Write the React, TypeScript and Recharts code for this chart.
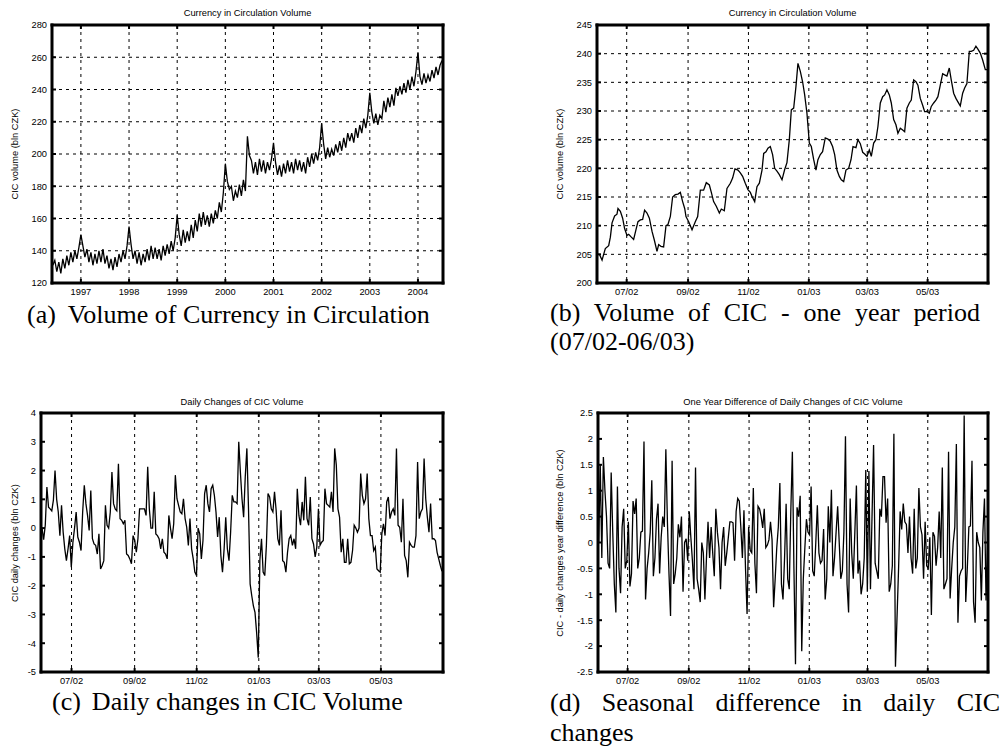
import React from 'react';
import { LineChart, Line, XAxis, YAxis, CartesianGrid } from 'recharts';

// ---------- Panel (a): CIC volume 1996-2004, two readings per month ----------
const yearTicks = [1997, 1998, 1999, 2000, 2001, 2002, 2003, 2004];
const volumeTicks = [120, 140, 160, 180, 200, 220, 240, 260, 280];
const cic1996 = [131, 134, 127, 133, 126, 135, 129, 137, 131, 139, 133, 140, 135, 142, 150];
const cic1997 = [143, 136, 141, 133, 139, 131, 138, 132, 140, 133, 141, 132, 137, 129, 135, 128, 136, 130, 138, 133, 140, 135, 143, 155];
const cic1998 = [144, 135, 140, 132, 139, 131, 138, 133, 141, 134, 143, 135, 142, 135, 141, 134, 143, 137, 144, 138, 146, 140, 148, 162];
const cic1999 = [150, 143, 153, 145, 152, 146, 156, 148, 159, 152, 163, 155, 164, 156, 162, 155, 163, 157, 165, 160, 170, 164, 176, 194];
const cic2000 = [183, 178, 180, 171, 177, 173, 181, 174, 184, 177, 211, 199, 196, 188, 195, 187, 197, 189, 196, 188, 195, 190, 197, 207];
const cic2001 = [195, 187, 193, 186, 194, 188, 196, 189, 195, 188, 197, 190, 196, 189, 195, 188, 198, 192, 200, 194, 201, 196, 204, 219];
const cic2002 = [206, 197, 204, 198, 203, 199, 206, 201, 208, 202, 210, 204, 213, 208, 213, 207, 216, 210, 218, 213, 222, 216, 224, 238];
const cic2003 = [226, 219, 225, 218, 224, 222, 233, 226, 235, 229, 237, 230, 241, 236, 242, 237, 244, 238, 246, 240, 248, 242, 251, 263];
const cic2004 = [248, 243, 250, 244, 249, 245, 252, 247, 254, 249, 255, 258];

// ---------- Shared month axis for panels (b)-(d): days since 1 June 2002 ----------
const monthTickDays = [30, 92, 153, 214, 273, 334];
const monthTickLabels = ['07/02', '09/02', '11/02', '01/03', '03/03', '05/03'];

// ---------- Panel (b): CIC volume 07/02 - 06/03 [day, bln CZK] ----------
const yearWindowTicks = [200, 205, 210, 215, 220, 225, 230, 235, 240, 245];
const cicYearWindow: [number, number][] = [
  [2.4, 205], [5.1, 204], [8.4, 206], [11.8, 206.5], [13.5, 208], [15.2, 210.5], [17.8, 211.7], [20.2, 212], [21.2, 213], [23.6, 212.5],
  [25.9, 211.3], [27.9, 209.5], [30.3, 208.3], [32, 208.5], [34.7, 208], [37, 207.6], [39.4, 209.3], [41.4, 210.7], [43.8, 211], [46.1, 211.1],
  [48.1, 212.7], [50.5, 212.2], [52.9, 211.3], [55.6, 209], [57.9, 207.5], [60.6, 205.5], [62.3, 206.7], [64.6, 206.4], [67.3, 206.3], [69.7, 210],
  [71.7, 210.2], [74.1, 211.6], [76.4, 215], [79.1, 215.4], [81.8, 215.5], [84.2, 215.8], [86.5, 214.2], [88.6, 213], [89.9, 211.6], [92.6, 210.7],
  [96, 209.3], [99.3, 210.7], [101.7, 211.6], [104.4, 216.2], [107.7, 216.2], [110.4, 217.5], [113.5, 217.1], [115.5, 215.8], [117.8, 214.2], [120.5, 213.4],
  [123.6, 212.2], [125.6, 212.9], [128.6, 212.6], [131.3, 216.5], [134.7, 217.4], [137, 218.3], [139.4, 219.9], [142.4, 219.7], [144.8, 219.2], [147.1, 218.6],
  [149.8, 217.4], [152.5, 216.3], [154.9, 215.8], [156.6, 215.1], [159.3, 214.2], [161.6, 216.8], [164, 217.4], [166.7, 219.7], [168.4, 222.6], [170.7, 222.9],
  [172.7, 223.5], [175.1, 223.8], [177.4, 222.4], [179.5, 220], [181.8, 219.5], [184.2, 218.9], [186.9, 218], [189.6, 219.8], [191.9, 221], [194.3, 225],
  [196.3, 230.2], [198.7, 230.5], [201, 234.3], [203, 238.3], [205.4, 236.9], [207.7, 235.1], [209.8, 232.8], [212.1, 229.6], [214.5, 224.4], [216.5, 223.8],
  [218.9, 221.5], [221.2, 219.7], [223.2, 221.5], [225.6, 222.4], [227.9, 222.9], [230.6, 225.3], [233.3, 225.1], [235.7, 224.7], [238, 223.8], [240.1, 222.4],
  [242.4, 219.7], [244.8, 218.6], [246.8, 218], [249.2, 217.7], [251.5, 219.7], [254.2, 220], [256.6, 221.5], [258.6, 223.8], [261.6, 223.6], [263.6, 225],
  [266, 224.3], [268.4, 222.8], [270.4, 222.5], [272.7, 222.1], [275.1, 223.2], [277.1, 222.1], [279.5, 224.4], [281.8, 225], [283.8, 227.3], [286.2, 231.4],
  [288.6, 232.5], [290.6, 232.8], [292.9, 233.7], [295.3, 232.8], [297.3, 231.4], [299.7, 228.5], [302, 227.6], [304, 226.1], [306.4, 227], [308.8, 226.7],
  [310.8, 226.4], [313.1, 230.5], [315.5, 231.4], [317.5, 231.9], [319.9, 235.4], [322.2, 235.1], [324.2, 234.5], [326.6, 232.2], [329, 231], [331, 229.9],
  [333.3, 229.9], [335.7, 229.6], [337.7, 230.8], [340.1, 231.4], [342.4, 231.9], [344.4, 232.5], [346.8, 234.5], [349.2, 236.5], [351.2, 236.3], [353.5, 236.1],
  [355.9, 237.5], [357.9, 235.4], [360.3, 233.1], [362.6, 232.2], [364.6, 231.6], [367, 230.9], [369.4, 233.1], [371.4, 234], [373.7, 234.8], [376.1, 240.4],
  [378.1, 240.4], [380.5, 240.6], [382.8, 241.3], [384.8, 240.8], [387.2, 240.1], [389.6, 238.9], [392.3, 237.2], [394.6, 237.2],
];

// ---------- Panel (c): daily changes (bln CZK), business days ----------
const changeTicks = [-5, -4, -3, -2, -1, 0, 1, 2, 3, 4];
const dailyChanges = [
  0, -0.4, 0.1, 1.43, 0.73, 0.67, 0.6, 0.97, 2.0, 1.0,
  0.56, -0.26, 0.79, -0.14, -0.72, -1.13, -0.72, -0.26, -1.36, -0.49,
  0, 0.56, -0.31, -0.49, -0.78, 0.56, 1.49, 0.85, 0.44, -0.08,
  1.31, -0.37, -0.55, -0.6, -0.9, -0.2, -1.42, -1.3, -1.13, 0.79,
  0.1, 0, 0.56, 1.95, 0.85, 0.67, 0.6, 2.24, 0.33, 0.27,
  0.15, 0.27, -0.9, -0.95, -1.07, -1.24, -0.26, -0.43, -0.84, -0.37,
  0.67, 0.67, 0.67, 0.67, 0.44, 2.13, 0.67, 0, 0, 1.26,
  -0.2, -0.26, -0.37, -0.72, -0.37, -0.84, -0.9, -1.07, 0.44, 0,
  -0.37, 0.15, 1.84, 1.02, 0.79, 0.56, 0.5, 1.02, 0.33, 0.03,
  -0.6, 0.33, -0.72, -1.07, -1.53, -1.65, 0, -0.2, -1.07, -0.43,
  1.2, 1.49, 0.85, 0.56, 1.37, 1.49, 1.14, 0.56, -0.31, 0.38,
  -0.95, -1.53, -0.72, 0.38, -0.72, -1.13, -0.14, 1.14, 0.91, 0.91,
  0.85, 3.0, 1.95, 1.02, 0.38, 1.78, 2.77, 0.67, -1.94, -2.35,
  -2.7, -2.93, -3.63, -4.5, -1.1, -0.37, -1.53, -1.65, -0.6, 1.2,
  1.08, 0.67, 0.56, 1.26, 0.62, -0.37, -0.6, 0.62, -1.13, -1.19,
  -1.53, -0.84, -0.37, -0.26, -0.6, -0.37, -0.72, 1.37, 0.44, 0.1,
  0.91, 0.27, 1.78, 0.33, 0.1, 1.08, -0.37, -0.55, -1.0, -0.66,
  0.67, -0.6, -0.49, -0.43, 1.37, 0.85, 0.79, 0.73, 1.26, 0.56,
  2.77, 2.19, 0.67, 0.38, -0.84, -0.37, -1.19, -1.19, -0.37, -1.24,
  -1.19, -0.78, 0.1, 0, -0.14, 0, 1.9, 1.14, 0.85, 1.02,
  1.9, 0.33, -0.26, -0.26, -0.78, -0.66, -1.42, -1.48, -1.53, -0.2,
  0.15, -0.26, 0.91, 1.08, 0.33, 0.56, 0.67, 0.44, 2.77, 0.1,
  0.03, -0.49, 1.02, -0.95, -1.13, -1.71, -0.49, -0.6, -0.66, -0.66,
  -0.26, 2.3, 0.33, 0.56, 0.67, 2.42, 1.02, 0.38, -0.14, 0.85,
  -0.37, -0.37, -0.43, -0.84, -1.07, -1.3, -1.5,
];

// ---------- Panel (d): one-year difference of daily changes ----------
const diffTicks = [-2.5, -2, -1.5, -1, -0.5, 0, 0.5, 1, 1.5, 2, 2.5];
const seasonalDiff = [
  0.0, 1.5, -0.3, 1.65, 1.0, 0.5, -0.4, -0.5, 1.35,
  0.2, -0.8, -1.35, 1.08, -0.5, -0.98, 0.3, 0.65, -0.5,
  -0.35, 0.4, -0.85, -0.6, 0.8, 0.55, 0.85,
  -0.5, -0.3, 0.2, 0.22, 1.95, -1.1, -0.5, -0.2, 0.2, 1.2,
  -0.65, -0.3, 0.45, 0.75, -0.6, 0.1, 0.5, 0.3, 1.8,
  0.4, -0.6, -1.42, 1.58, -0.8, -0.6, -0.3, 0.35, 0.1, 0.5,
  -0.95, 0.0, 0.07, -0.35, 0.6, 0.1, -0.35, -0.9, 1.45, -0.7,
  -0.9, -1.15, 0.0, -0.2, -1.1, -0.3, 0.4, -0.3, 0.3, -0.2,
  -0.65, 0.65, 0.2, -0.1, -0.9, 0.0, 0.3, -0.45, -0.2, 0.1,
  0.4, 0.4, 0.38, -0.35, 0.6, 0.85, 0.8, 0.3, -0.3, 0.62,
  -0.5, -1.38, 0.3, -0.15, -0.2, 1.05, -0.4, -0.98, 0.7, 0.65,
  0.5, 0.28, 0.65, -0.1, -0.05, 0.05, 0.4, 0.05, -1.25, -0.7,
  -0.1, 0.3, 1.15, -0.8, -1.1, -0.3, 0.75, -0.7, -0.9, 0.6,
  1.75, -0.5, -2.35, 0.68, 0.5, 0.9, -2.1, -0.7, -0.1, 0.45,
  0.2, 0.15, 1.08, -0.55, -0.65, 0.0, 0.72, -0.2, -0.4, -0.35,
  0.26, -1.1, -0.7, 0.7, 0.0, 1.02, -0.65, -0.3, 0.2, 0.7,
  0.0, -0.7, -0.55, 0.2, 2.05, -0.8, -1.35, 0.85, -0.2,
  -0.7, 0.2, 1.1, -0.6, -0.35, -1.0, -0.8, -0.3, 1.4,
  -0.95, 1.38, -0.9, 0.5, 1.88, -0.4, -0.55, -0.7, 0.65, 0.5,
  1.27, 1.27, 0.38, 0.85, -0.95, -0.8, -0.45, 2.1, -2.4,
  -1.45, -0.5, 0.6, 0.25, 0.75, 0.4, 0.35, -0.2, 0.5, -0.3, -0.6, 0.65,
  -0.5, -0.3, 1.05, 0.3, 0.15, -0.7, 0.4, -0.45, -0.5, 0.1, -1.4, 0.2,
  0.12, -0.45, -0.1, 0.6, -0.3, 1.45, -0.9, -0.8, -0.7, 1.75, -1.08, -0.5,
  0.0, 0.3, 1.9, -1.55, -0.65, -0.55, -0.5, 2.45, -1.15, -0.5, 0.3,
  0.32, 1.58, -1.15, -1.55, 0.2, 0.0, -0.1, -1.12, 0.2, 0.85, -1.12, 0.0,
];

// ---------- data tables ----------
type Pt = { x: number; y: number };
const semiMonthly = (year: number, firstSlot: number, values: number[]): Pt[] =>
  values.map((v, i) => ({ x: year + (firstSlot + i + 1) / 24, y: v }));

const volumeData: Pt[] = [
  ...semiMonthly(1996, 9, cic1996),
  ...semiMonthly(1997, 0, cic1997),
  ...semiMonthly(1998, 0, cic1998),
  ...semiMonthly(1999, 0, cic1999),
  ...semiMonthly(2000, 0, cic2000),
  ...semiMonthly(2001, 0, cic2001),
  ...semiMonthly(2002, 0, cic2002),
  ...semiMonthly(2003, 0, cic2003),
  ...semiMonthly(2004, 0, cic2004),
];
const yearWindowData: Pt[] = cicYearWindow.map(([d, v]) => ({ x: d, y: v }));
const businessDays = (values: number[], first: number, last: number): Pt[] =>
  values.map((v, i) => ({ x: first + (i * (last - first)) / (values.length - 1), y: v }));
const changesData = businessDays(dailyChanges, 1, 394);
const diffData = businessDays(seasonalDiff, 0.7, 394.6);

const monthLabel = (v: number) => {
  const i = monthTickDays.indexOf(v);
  return i >= 0 ? monthTickLabels[i] : '';
};

const SANS = '"Liberation Sans", Arial, Helvetica, sans-serif';
const SERIF = '"Liberation Serif", "Times New Roman", Times, serif';
const FS = 9.3;
const blank = () => <g />;

type PanelProps = {
  left: number; top: number; width: number; height: number;
  mTop: number; mRight: number; yWidth: number; xHeight: number;
  data: Pt[];
  xDomain: [number, number]; xTicks: number[]; xFormat?: (v: number) => string;
  yDomain: [number, number]; yTicks: number[];
  hGrid: boolean; title: string; titleY: number; yLabel: string; yLabelX: number;
};

function Panel(p: PanelProps) {
  const plotLeft = p.left + p.yWidth;
  const plotRight = p.left + p.width - p.mRight;
  const plotTop = p.top + p.mTop;
  const plotBottom = p.top + p.height - p.xHeight;
  const frame = { stroke: '#000', strokeWidth: 3, strokeLinecap: 'square' as const };
  const inTick = { stroke: '#000', strokeWidth: 2 };
  const tickStyle = { fontSize: FS, fill: '#000', fontFamily: SANS };
  return (
    <>
      <div style={{ position: 'absolute', left: p.left, top: p.top, width: p.width, height: p.height }}>
        <LineChart width={p.width} height={p.height} data={p.data}
          margin={{ top: p.mTop, right: p.mRight, bottom: 0, left: 0 }}>
          <CartesianGrid stroke="#000" strokeDasharray="3 4" strokeWidth={1} horizontal={p.hGrid} vertical={true} />
          <XAxis type="number" dataKey="x" domain={p.xDomain} ticks={p.xTicks} interval={0} allowDataOverflow
            tickFormatter={p.xFormat} axisLine={false} tickLine={false} tickSize={3} tickMargin={2}
            height={p.xHeight} tick={tickStyle} />
          <YAxis type="number" dataKey="y" domain={p.yDomain} ticks={p.yTicks} interval={0} allowDataOverflow
            axisLine={false} tickLine={false} tickSize={3} tickMargin={2} width={p.yWidth} tick={tickStyle} />
          <XAxis xAxisId="top" orientation="top" mirror type="number" dataKey="x" domain={p.xDomain} ticks={p.xTicks}
            interval={0} allowDataOverflow tick={blank} tickSize={4} tickLine={inTick} axisLine={frame} />
          <XAxis xAxisId="bot" orientation="bottom" mirror type="number" dataKey="x" domain={p.xDomain} ticks={p.xTicks}
            interval={0} allowDataOverflow tick={blank} tickSize={4} tickLine={inTick} axisLine={frame} />
          <YAxis yAxisId="lm" orientation="left" mirror type="number" dataKey="y" domain={p.yDomain} ticks={p.yTicks}
            interval={0} allowDataOverflow tick={blank} tickSize={4} tickLine={inTick} axisLine={frame} />
          <YAxis yAxisId="rm" orientation="right" mirror type="number" dataKey="y" domain={p.yDomain} ticks={p.yTicks}
            interval={0} allowDataOverflow tick={blank} tickSize={4} tickLine={inTick} axisLine={frame} />
          <Line type="linear" dataKey="y" stroke="#000" strokeWidth={1.3} dot={false} activeDot={false}
            isAnimationActive={false} />
        </LineChart>
      </div>
      <div style={{ position: 'absolute', left: (plotLeft + plotRight) / 2, top: p.titleY, transform: 'translate(-50%, -50%)',
        whiteSpace: 'nowrap', fontFamily: SANS, fontSize: FS, lineHeight: '11px', color: '#000' }}>{p.title}</div>
      <div style={{ position: 'absolute', left: p.yLabelX, top: (plotTop + plotBottom) / 2,
        transform: 'translate(-50%, -50%) rotate(-90deg)', whiteSpace: 'nowrap', fontFamily: SANS, fontSize: FS,
        lineHeight: '11px', color: '#000' }}>{p.yLabel}</div>
    </>
  );
}

const cap: React.CSSProperties = {
  position: 'absolute', fontFamily: SERIF, fontSize: 26, lineHeight: '24px', color: '#000', whiteSpace: 'nowrap',
};
const capJust: React.CSSProperties = {
  position: 'absolute', fontFamily: SERIF, fontSize: 26, lineHeight: '24px', color: '#000',
  textAlign: 'justify', textAlignLast: 'justify',
};

export default function App() {
  return (
    <div style={{ position: 'absolute', left: 0, top: 0, width: 1005, height: 749, background: '#fff', overflow: 'hidden' }}>
      <Panel left={0} top={0} width={460} height={300} mTop={25} mRight={17} yWidth={52} xHeight={17}
        data={volumeData} xDomain={[1996.4, 2004.52]} xTicks={yearTicks}
        yDomain={[120, 280]} yTicks={volumeTicks} hGrid={true}
        title="Currency in Circulation Volume" titleY={13} yLabel="CIC volume (bln CZK)" yLabelX={15} />
      <Panel left={540} top={0} width={465} height={300} mTop={25} mRight={17} yWidth={57} xHeight={17}
        data={yearWindowData} xDomain={[0, 395]} xTicks={monthTickDays} xFormat={monthLabel}
        yDomain={[200, 245]} yTicks={yearWindowTicks} hGrid={true}
        title="Currency in Circulation Volume" titleY={13} yLabel="CIC volume (bln CZK)" yLabelX={560} />
      <Panel left={0} top={390} width={460} height={300} mTop={23} mRight={17} yWidth={41} xHeight={18}
        data={changesData} xDomain={[0, 395]} xTicks={monthTickDays} xFormat={monthLabel}
        yDomain={[-5, 4]} yTicks={changeTicks} hGrid={false}
        title="Daily Changes of CIC Volume" titleY={402} yLabel="CIC daily changes (bln CZK)" yLabelX={15} />
      <Panel left={540} top={390} width={465} height={300} mTop={23} mRight={17} yWidth={58} xHeight={18}
        data={diffData} xDomain={[0, 395]} xTicks={monthTickDays} xFormat={monthLabel}
        yDomain={[-2.5, 2.5]} yTicks={diffTicks} hGrid={false}
        title="One Year Difference of Daily Changes of CIC Volume" titleY={402}
        yLabel="CIC - daily changes year difference (bln CZK)" yLabelX={560} />

      <div style={{ ...cap, left: 27, top: 302.5 }}>(a)<span style={{ marginLeft: 12 }}>Volume of Currency in Circulation</span></div>
      <div style={{ ...capJust, left: 550, top: 300.7, width: 430 }}>(b) Volume of CIC - one year period</div>
      <div style={{ ...cap, left: 550, top: 329.8 }}>(07/02-06/03)</div>
      <div style={{ ...cap, left: 52, top: 690.2 }}>(c)<span style={{ marginLeft: 11 }}>Daily changes in CIC Volume</span></div>
      <div style={{ ...capJust, left: 550, top: 691, width: 450 }}>(d) Seasonal difference in daily CIC</div>
      <div style={{ ...cap, left: 550, top: 720.7 }}>changes</div>
    </div>
  );
}
